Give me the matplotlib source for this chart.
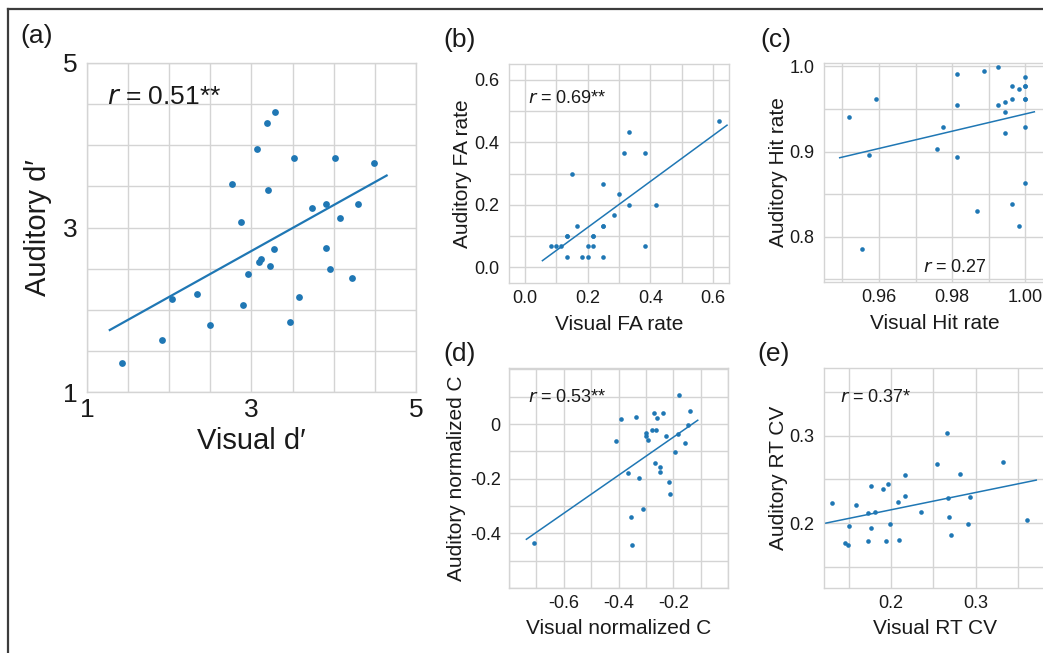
import numpy as np
import matplotlib
matplotlib.use("Agg")
import matplotlib.pyplot as plt
from matplotlib.lines import Line2D

plt.rcParams['font.family'] = ['Liberation Sans', 'DejaVu Sans']
plt.rcParams['axes.unicode_minus'] = False

# ---------------- data ----------------
# (a) d'
a_visual = [1.43, 1.91, 2.03, 2.34, 2.49, 2.76, 2.87, 2.90, 2.96, 3.07, 3.09, 3.11,
            3.19, 3.20, 3.22, 3.28, 3.27, 3.47, 3.52, 3.58, 3.73, 3.90, 3.90, 3.96,
            4.01, 4.08, 4.22, 4.30, 4.49]
a_auditory = [1.35, 1.63, 2.13, 2.19, 1.81, 3.53, 3.07, 2.06, 2.43, 3.96, 2.58, 2.62,
              4.27, 3.45, 2.53, 4.40, 2.74, 1.85, 3.85, 2.15, 3.24, 3.29, 2.75, 2.49,
              3.85, 3.12, 2.38, 3.29, 3.79]
# (b) FA rate
b_visual = [0.083, 0.100, 0.117, 0.133, 0.133, 0.133, 0.150, 0.167, 0.183, 0.200,
            0.200, 0.217, 0.217, 0.217, 0.250, 0.250, 0.250, 0.250, 0.283, 0.300,
            0.317, 0.333, 0.333, 0.383, 0.383, 0.417, 0.617]
b_auditory = [0.067, 0.067, 0.067, 0.100, 0.100, 0.033, 0.300, 0.133, 0.033, 0.067,
              0.033, 0.100, 0.100, 0.067, 0.133, 0.133, 0.267, 0.033, 0.167, 0.233,
              0.367, 0.200, 0.433, 0.367, 0.067, 0.200, 0.467]
# (c) Hit rate
c_visual = [0.9517, 0.9555, 0.9573, 0.9591, 0.9758, 0.9776, 0.9814, 0.9814, 0.9814,
            0.9868, 0.9887, 0.9925, 0.9925, 0.9943, 0.9943, 0.9943, 0.9962, 0.9962,
            0.9962, 0.9981, 0.9981, 1.0, 1.0, 1.0, 1.0, 1.0, 1.0, 1.0]
c_auditory = [0.940, 0.786, 0.896, 0.962, 0.9035, 0.929, 0.991, 0.955, 0.893,
              0.830, 0.995, 0.999, 0.955, 0.958, 0.947, 0.922, 0.977, 0.962,
              0.838, 0.973, 0.812, 0.988, 0.977, 0.977, 0.962, 0.962, 0.929, 0.863]
# (d) normalized C
d_visual = [-0.708, -0.409, -0.392, -0.364, -0.356, -0.352, -0.337, -0.325, -0.310,
            -0.301, -0.301, -0.292, -0.278, -0.269, -0.265, -0.263, -0.258, -0.247,
            -0.247, -0.239, -0.225, -0.215, -0.212, -0.195, -0.184, -0.179, -0.156,
            -0.145, -0.139]
d_auditory = [-0.437, -0.062, 0.017, -0.179, -0.339, -0.444, 0.024, -0.199, -0.311,
              -0.034, -0.044, -0.060, -0.021, 0.040, -0.143, -0.021, 0.021, -0.157,
              -0.174, 0.041, -0.043, -0.213, -0.256, -0.102, -0.035, 0.106, -0.068,
              -0.004, 0.049]
# (e) RT CV
e_visual = [0.130, 0.146, 0.149, 0.150, 0.159, 0.173, 0.173, 0.176, 0.176, 0.181,
            0.191, 0.194, 0.197, 0.199, 0.208, 0.209, 0.216, 0.217, 0.235, 0.254,
            0.266, 0.267, 0.269, 0.271, 0.282, 0.291, 0.293, 0.332, 0.360]
e_auditory = [0.223, 0.177, 0.175, 0.197, 0.221, 0.211, 0.180, 0.194, 0.242, 0.213,
              0.239, 0.180, 0.245, 0.199, 0.224, 0.181, 0.231, 0.255, 0.213, 0.268,
              0.303, 0.229, 0.207, 0.186, 0.256, 0.199, 0.230, 0.270, 0.204]

panels = ['(a)', '(b)', '(c)', '(d)', '(e)']
r_texts = ['0.51**', '0.69**', '0.27', '0.53**', '0.37*']
xlabels = ['Visual d′', 'Visual FA rate', 'Visual Hit rate', 'Visual normalized C', 'Visual RT CV']
ylabels = ['Auditory d′', 'Auditory FA rate', 'Auditory Hit rate', 'Auditory normalized C', 'Auditory RT CV']

a_xticks = [1, 3, 5]; a_xticklabels = ['1', '3', '5']
a_yticks = [1, 3, 5]; a_yticklabels = ['1', '3', '5']
b_xticks = [0.0, 0.2, 0.4, 0.6]; b_xticklabels = ['0.0', '0.2', '0.4', '0.6']
b_yticks = [0.0, 0.2, 0.4, 0.6]; b_yticklabels = ['0.0', '0.2', '0.4', '0.6']
c_xticks = [0.96, 0.98, 1.00]; c_xticklabels = ['0.96', '0.98', '1.00']
c_yticks = [0.8, 0.9, 1.0]; c_yticklabels = ['0.8', '0.9', '1.0']
d_xticks = [-0.6, -0.4, -0.2]; d_xticklabels = ['-0.6', '-0.4', '-0.2']
d_yticks = [-0.4, -0.2, 0.0]; d_yticklabels = ['-0.4', '-0.2', '0']
e_xticks = [0.2, 0.3]; e_xticklabels = ['0.2', '0.3']
e_yticks = [0.2, 0.3]; e_yticklabels = ['0.2', '0.3']

# ---------------- layout ----------------
W, H = 1043, 653
fig = plt.figure(figsize=(W / 100, H / 100), dpi=100)

def fx(px):
    return px / W

def fy(py):
    return 1 - py / H

def make_ax(l, t, r, b):
    return fig.add_axes([fx(l), fy(b), (r - l) / W, (b - t) / H])

BLUE = '#1f77b4'
GRID = '#d4d4d4'

specs = [
    dict(box=(87, 63, 416, 392), x=a_visual, y=a_auditory,
         xlim=(1, 5), ylim=(1, 5), minor=(0.5, 0.5),
         xt=(a_xticks, a_xticklabels), yt=(a_yticks, a_yticklabels),
         s=24, lw=1.6, tick_fs=19, lab_fs=21, r_fs=19,
         rpos=(107, 104), ppos=(20, 24), xlab_y=441, ylab_x=38, xpad=4, ypad=7),
    dict(box=(509, 64, 729, 283), x=b_visual, y=b_auditory,
         xlim=(-0.05, 0.65), ylim=(-0.05, 0.65), minor=(0.1, 0.1),
         xt=(b_xticks, b_xticklabels), yt=(b_yticks, b_yticklabels),
         s=11, lw=1.1, tick_fs=13, lab_fs=15, r_fs=13,
         rpos=(528, 103), ppos=(443, 28), xlab_y=324, ylab_x=462, xpad=5, ypad=7),
    dict(box=(824, 63, 1046, 282), x=c_visual, y=c_auditory,
         xlim=(0.945, 1.0056), ylim=(0.7467, 1.004), minor=(0.01, 0.05),
         xt=(c_xticks, c_xticklabels), yt=(c_yticks, c_yticklabels),
         s=11, lw=1.1, tick_fs=13, lab_fs=15, r_fs=13,
         rpos=(923, 272), ppos=(760, 28), xlab_y=324, ylab_x=778, xpad=5, ypad=7),
    dict(box=(509, 368, 728, 588), x=d_visual, y=d_auditory,
         xlim=(-0.8, 0.0), ylim=(-0.6, 0.205), minor=(0.1, 0.1),
         xt=(d_xticks, d_xticklabels), yt=(d_yticks, d_yticklabels),
         s=11, lw=1.1, tick_fs=13, lab_fs=15, r_fs=13,
         rpos=(528, 402), ppos=(443, 342), xlab_y=628, ylab_x=456, xpad=5, ypad=6),
    dict(box=(824, 368, 1046, 588), x=e_visual, y=e_auditory,
         xlim=(0.1209, 0.383), ylim=(0.1256, 0.3776), minor=(0.05, 0.05),
         xt=(e_xticks, e_xticklabels), yt=(e_yticks, e_yticklabels),
         s=11, lw=1.1, tick_fs=13, lab_fs=15, r_fs=13,
         rpos=(840, 402), ppos=(757, 342), xlab_y=628, ylab_x=778, xpad=5, ypad=7),
]

for i, sp in enumerate(specs):
    l, t, r, b = sp['box']
    ax = make_ax(l, t, r, b)
    x = np.asarray(sp['x'], dtype=float)
    y = np.asarray(sp['y'], dtype=float)
    ax.scatter(x, y, s=sp['s'], color=BLUE, linewidths=0, zorder=3)
    # regression line over data range with 5% margins (seaborn-like)
    k, c0 = np.polyfit(x, y, 1)
    span = x.max() - x.min()
    xx = np.array([x.min() - 0.05 * span, x.max() + 0.05 * span])
    ax.plot(xx, k * xx + c0, color=BLUE, lw=sp['lw'], zorder=2)

    ax.set_xlim(*sp['xlim'])
    ax.set_ylim(*sp['ylim'])
    ax.set_xticks(sp['xt'][0])
    ax.set_xticklabels(sp['xt'][1])
    ax.set_yticks(sp['yt'][0])
    ax.set_yticklabels(sp['yt'][1])
    ax.xaxis.set_minor_locator(matplotlib.ticker.MultipleLocator(sp['minor'][0]))
    ax.yaxis.set_minor_locator(matplotlib.ticker.MultipleLocator(sp['minor'][1]))
    ax.grid(True, which='both', color=GRID, lw=1.0, zorder=0)
    ax.set_axisbelow(True)
    ax.tick_params(which='both', length=0, labelsize=sp['tick_fs'], colors='#1a1a1a')
    ax.tick_params(axis='x', pad=sp['xpad'])
    ax.tick_params(axis='y', pad=sp['ypad'])
    for s in ax.spines.values():
        s.set_color(GRID)
        s.set_linewidth(1.0)

    ax.set_xlabel(xlabels[i], fontsize=sp['lab_fs'], color='#1a1a1a')
    ax.set_ylabel(ylabels[i], fontsize=sp['lab_fs'], color='#1a1a1a')
    ax.xaxis.label.set_va('center')
    ax.yaxis.label.set_va('center')
    ax.xaxis.set_label_coords(0.5, (b - sp['xlab_y']) / (b - t))
    ax.yaxis.set_label_coords((sp['ylab_x'] - l) / (r - l), 0.5)

    fig.text(fx(sp['rpos'][0]), fy(sp['rpos'][1]), r'$r$ = ' + r_texts[i],
             fontsize=sp['r_fs'], ha='left', va='baseline', color='#1a1a1a')
    fig.text(fx(sp['ppos'][0]), fy(sp['ppos'][1]), panels[i],
             fontsize=19, ha='left', va='top', color='#1a1a1a')

# frame lines (top and left border)
fig.add_artist(Line2D([fx(8), fx(8)], [fy(9), 0], color='#3c3c3c', lw=1.6,
                      transform=fig.transFigure))
fig.add_artist(Line2D([fx(8), 1], [fy(9), fy(9)], color='#3c3c3c', lw=1.6,
                      transform=fig.transFigure))

fig.savefig('out.png', dpi=100)
